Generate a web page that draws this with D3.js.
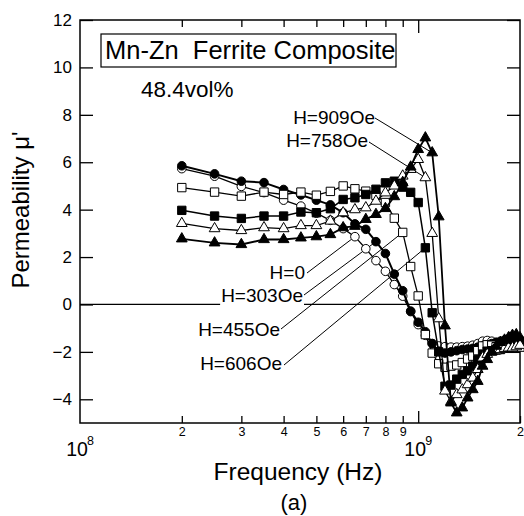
<!DOCTYPE html>
<html>
<head>
<meta charset="utf-8">
<script src="https://cdn.jsdelivr.net/npm/d3@7"></script>
<style>
  body { margin: 0; background: #fff; }
  text { font-family: "Liberation Sans", Arial, Helvetica, sans-serif; fill: #000; }
</style>
</head>
<body>
<div id="my_dataviz"></div>
<script>

// frequency points (Hz)
var freqs = [2.0e8, 2.5e8, 3.0e8, 3.5e8, 4.0e8, 4.5e8, 5.0e8, 5.5e8, 6.0e8, 6.5e8,
    7.0e8, 7.5e8, 8.0e8, 8.5e8, 9.0e8, 9.5e8, 1.0e9, 1.05e9, 1.1e9, 1.15e9,
    1.2e9, 1.25e9, 1.3e9, 1.35e9, 1.4e9, 1.45e9, 1.5e9, 1.55e9, 1.6e9, 1.65e9,
    1.7e9, 1.75e9, 1.8e9, 1.85e9, 1.9e9, 1.95e9, 2.0e9]

var mu_H0 = [5.73, 5.41, 4.98, 4.72, 4.40, 4.15, 3.85, 3.55, 3.20, 2.86,
    2.35, 1.85, 1.40, 0.84, 0.35, -0.30, -0.85, -1.30, -1.65, -1.75,
    -1.78, -1.80, -1.80, -1.78, -1.76, -1.72, -1.65, -1.55, -1.52, -1.55,
    -1.60, -1.65, -1.70, -1.65, -1.60, -1.58, -1.55]
var mu_H303 = [5.85, 5.51, 5.20, 5.14, 4.85, 4.62, 4.40, 4.20, 3.87, 3.40,
    3.17, 2.65, 2.15, 1.28, 0.58, -0.28, -0.75, -1.15, -1.65, -1.97,
    -2.05, -2.00, -1.95, -1.90, -1.88, -1.85, -1.80, -1.75, -1.70, -1.65,
    -1.60, -1.55, -1.50, -1.45, -1.40, -1.45, -1.50]
var mu_H455 = [4.93, 4.74, 4.57, 4.74, 4.64, 4.74, 4.61, 4.77, 5.00, 4.88,
    4.78, 4.60, 4.30, 3.64, 3.04, 1.60, 0.36, -1.27, -2.05, -2.50,
    -2.65, -2.60, -2.55, -2.45, -2.30, -2.18, -1.95, -1.75, -1.70, -1.72,
    -1.78, -1.80, -1.82, -1.80, -1.78, -1.80, -1.80]
var mu_H606 = [3.97, 3.73, 3.63, 3.73, 3.73, 3.90, 3.87, 4.04, 4.43, 4.50,
    4.64, 4.86, 5.13, 5.20, 4.95, 4.73, 4.30, 2.39, -0.35, -2.00,
    -3.45, -3.40, -3.15, -2.95, -2.80, -2.60, -2.32, -2.10, -1.97, -1.95,
    -1.92, -1.90, -1.85, -1.60, -1.35, -1.45, -1.55]
var mu_H758 = [3.42, 3.20, 3.12, 3.24, 3.20, 3.33, 3.33, 3.52, 3.87, 4.00,
    4.08, 4.36, 4.71, 5.00, 5.42, 5.70, 6.12, 5.35, 3.00, -0.60,
    -3.65, -4.10, -3.80, -3.60, -3.38, -3.10, -2.74, -2.25, -2.10, -2.00,
    -1.95, -1.90, -1.85, -1.83, -1.83, -1.78, -1.72]
var mu_H909 = [2.77, 2.60, 2.53, 2.74, 2.74, 2.81, 2.86, 2.95, 3.24, 3.30,
    3.59, 3.80, 4.05, 4.55, 5.15, 5.80, 6.54, 7.03, 6.40, 3.70,
    -0.90, -4.15, -4.57, -4.36, -3.94, -3.59, -3.24, -2.60, -2.32, -2.00,
    -1.76, -1.60, -1.50, -1.40, -1.30, -1.27, -1.40]

var seriesNames = ["H=0", "H=303Oe", "H=455Oe", "H=606Oe", "H=758Oe", "H=909Oe"]
var seriesValues = [mu_H0, mu_H303, mu_H455, mu_H606, mu_H758, mu_H909]

var yTicks = [-4, -2, 0, 2, 4, 6, 8, 10, 12]
var xMinorTicks = [2e8, 3e8, 4e8, 5e8, 6e8, 7e8, 8e8, 9e8, 2e9]
var xMinorLabels = ["2", "3", "4", "5", "6", "7", "8", "9", "2"]
var xDecades = [1e8, 1e9]

var title = "Mn-Zn\u00a0\u00a0Ferrite Composite"
var subtitle = "48.4vol%"

var W = 524, H = 516
var x = d3.scaleLog().domain([1e8, 2e9]).range([80, 520])
var y = d3.scaleLinear().domain([-5, 12]).range([423, 20])

var svg = d3.select("#my_dataviz")
    .append("svg")
    .attr("width", W)
    .attr("height", H)

// axes, ticks pointing inward
svg.append("g")
    .attr("transform", "translate(0," + y(-5) + ")")
    .call(d3.axisBottom(x).tickValues(xMinorTicks).tickSize(-7).tickSizeOuter(0).tickPadding(4)
        .tickFormat(function (d, i) { return xMinorLabels[i] }))
    .call(function (g) { g.selectAll("text").attr("font-size", 12.5) })
svg.append("g")
    .attr("transform", "translate(0," + y(-5) + ")")
    .call(d3.axisBottom(x).tickValues([1e9]).tickSize(-12).tickSizeOuter(0).tickFormat(""))
svg.append("g")
    .attr("transform", "translate(0," + y(12) + ")")
    .call(d3.axisTop(x).tickValues(xMinorTicks.slice(0, 8)).tickSize(-7).tickSizeOuter(0).tickFormat(""))
svg.append("g")
    .attr("transform", "translate(0," + y(12) + ")")
    .call(d3.axisTop(x).tickValues([1e9]).tickSize(-13).tickSizeOuter(0).tickFormat(""))
svg.append("g")
    .attr("transform", "translate(" + x(1e8) + ",0)")
    .call(d3.axisLeft(y).tickValues(yTicks).tickSize(-13).tickSizeOuter(0).tickPadding(8))
    .call(function (g) { g.selectAll("text").attr("font-size", 17) })
svg.append("g")
    .attr("transform", "translate(" + x(2e9) + ",0)")
    .call(d3.axisRight(y).tickValues(yTicks).tickSize(-13).tickSizeOuter(0).tickFormat(""))

svg.selectAll(".domain").remove()
svg.selectAll(".tick line").attr("stroke", "#000").attr("stroke-width", 1.3)
svg.selectAll(".tick text").attr("fill", "#000").attr("font-family", null)

// frame
svg.append("rect")
    .attr("x", x(1e8)).attr("y", y(12))
    .attr("width", x(2e9) - x(1e8)).attr("height", y(-5) - y(12))
    .attr("fill", "none").attr("stroke", "#000").attr("stroke-width", 1.5)

// decade labels 10^8, 10^9
xDecades.forEach(function (d) {
    svg.append("text")
        .attr("x", x(d) - 3).attr("y", 456)
        .attr("text-anchor", "middle").attr("font-size", 19.5)
        .text("10")
    svg.append("text")
        .attr("x", x(d) + 7).attr("y", 445)
        .attr("font-size", 12.5)
        .text(String(Math.round(Math.log10(d))))
})

// zero line
svg.append("line")
    .attr("x1", x(1e8)).attr("x2", x(2e9))
    .attr("y1", y(0)).attr("y2", y(0))
    .attr("stroke", "#000").attr("stroke-width", 1.2)

// leader lines (label end -> data point)
var leaders = [
    { name: "H=909Oe", tx: 375, ty: 124, lx: 375, ly: 118, i: 18, s: 5 },
    { name: "H=758Oe", tx: 368, ty: 147, lx: 369, ly: 142, i: 17, s: 4 },
    { name: "H=0", tx: 305, ty: 279, lx: 307, ly: 273, i: 9, s: 0 },
    { name: "H=303Oe", tx: 303, ty: 302, lx: 304, ly: 295, i: 11, s: 1 },
    { name: "H=455Oe", tx: 280, ty: 336, lx: 281, ly: 329, i: 14, s: 2 },
    { name: "H=606Oe", tx: 282, ty: 370, lx: 284, ly: 365, i: 17, s: 3 }
]

leaders.forEach(function (l) {
    svg.append("line")
        .attr("x1", l.lx).attr("y1", l.ly)
        .attr("x2", x(freqs[l.i])).attr("y2", y(seriesValues[l.s][l.i]))
        .attr("stroke", "#000").attr("stroke-width", 1)
})

// curves
var line = d3.line()
    .x(function (d, i) { return x(freqs[i]) })
    .y(function (d) { return y(d) })

var symbols = [d3.symbolCircle, d3.symbolCircle, d3.symbolSquare, d3.symbolSquare, d3.symbolTriangle, d3.symbolTriangle]
var symSize = [58, 58, 70, 70, 50, 50]
var filled = [false, true, false, true, false, true]
var lineW = [1.3, 2, 1.3, 1.5, 1.3, 1.8]

seriesValues.forEach(function (vals, s) {
    svg.append("path")
        .datum(vals)
        .attr("fill", "none")
        .attr("stroke", "#000")
        .attr("stroke-width", lineW[s])
        .attr("d", line)
    svg.append("g")
        .selectAll("path")
        .data(vals)
        .enter().append("path")
        .attr("transform", function (d, i) { return "translate(" + x(freqs[i]) + "," + y(d) + ")" })
        .attr("d", d3.symbol().type(symbols[s]).size(symSize[s]))
        .attr("fill", filled[s] ? "#000" : "#fff")
        .attr("stroke", "#000")
        .attr("stroke-width", 1)
})

// series labels
leaders.forEach(function (l) {
    var t = svg.append("text")
        .attr("x", l.tx).attr("y", l.ty)
        .attr("text-anchor", "end").attr("font-size", 19)
        .text(l.name)
    if (l.name == "H=303Oe") {
        var bb = t.node().getBBox()
        svg.insert("rect", function () { return t.node() })
            .attr("x", bb.x - 1).attr("y", bb.y)
            .attr("width", bb.width + 2).attr("height", bb.height + 2)
            .attr("fill", "#fff")
    }
})

// title box
svg.append("rect")
    .attr("x", 101).attr("y", 34).attr("width", 295).attr("height", 33)
    .attr("fill", "#fff").attr("stroke", "#000").attr("stroke-width", 1.2)
svg.append("text")
    .attr("x", 105).attr("y", 59).attr("font-size", 25.5)
    .text(title)
svg.append("text")
    .attr("x", 141).attr("y", 97).attr("font-size", 22.5)
    .text(subtitle)

// axis titles
svg.append("text")
    .attr("transform", "translate(29,210) rotate(-90)")
    .attr("text-anchor", "middle").attr("font-size", 24)
    .text("Permeability \u03bc'")
svg.append("text")
    .attr("x", 298).attr("y", 480)
    .attr("text-anchor", "middle").attr("font-size", 24.5)
    .text("Frequency (Hz)")
svg.append("text")
    .attr("x", 294).attr("y", 510)
    .attr("text-anchor", "middle").attr("font-size", 22)
    .text("(a)")

</script>
</body>
</html>
